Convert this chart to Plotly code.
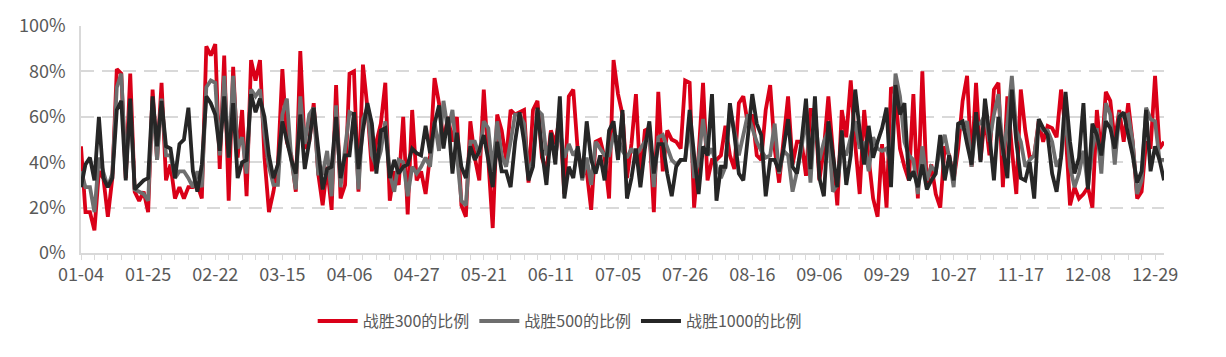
import pandas as pd
import plotly.graph_objects as go

# 2021 China A-share exchange holidays (weekdays closed)
HOLIDAYS = ["2021-01-01", "2021-02-11", "2021-02-12", "2021-02-15", "2021-02-16", "2021-02-17",
            "2021-04-05", "2021-05-03", "2021-05-04", "2021-05-05", "2021-06-14",
            "2021-09-20", "2021-09-21", "2021-10-01", "2021-10-04", "2021-10-05",
            "2021-10-06", "2021-10-07"]
trade_days = [d for d in pd.bdate_range("2021-01-04", "2021-12-31") if d.strftime("%Y-%m-%d") not in HOLIDAYS]
dates = [d.strftime("%m-%d") for d in trade_days]

win300 = [47, 18, 18, 10, 36, 33, 16, 33, 81, 79, 33, 79, 27, 23, 27, 18, 72, 41, 75, 32,
          39, 24, 29, 24, 29, 29, 30, 24, 91, 87, 92, 37, 87, 23, 82, 42, 63, 25, 85, 76,
          85, 42, 18, 27, 39, 81, 49, 43, 27, 89, 46, 49, 66, 35, 21, 38, 19, 74, 24, 30,
          79, 80, 27, 83, 64, 36, 49, 57, 75, 23, 36, 30, 60, 17, 63, 32, 36, 26, 43, 77,
          66, 49, 60, 49, 60, 21, 16, 58, 42, 32, 72, 41, 11, 61, 54, 41, 63, 61, 62, 63,
          31, 63, 67, 42, 36, 54, 48, 61, 26, 69, 72, 45, 35, 36, 19, 49, 50, 42, 24, 85,
          70, 61, 33, 48, 70, 32, 54, 55, 18, 71, 36, 54, 50, 49, 46, 76, 75, 20, 43, 75,
          32, 41, 41, 43, 56, 43, 37, 66, 69, 57, 61, 43, 41, 63, 74, 46, 31, 49, 69, 39,
          49, 49, 34, 63, 63, 32, 46, 69, 46, 21, 63, 51, 76, 48, 26, 63, 42, 24, 16, 48,
          20, 73, 70, 46, 38, 32, 70, 24, 80, 29, 39, 26, 20, 47, 43, 32, 46, 67, 78, 38,
          75, 41, 60, 43, 72, 75, 29, 69, 46, 26, 72, 54, 42, 43, 58, 49, 56, 55, 51, 72,
          54, 21, 29, 24, 26, 29, 20, 63, 43, 71, 67, 49, 63, 49, 66, 49, 24, 27, 49, 46,
          78, 46, 49]

win500 = [36, 29, 29, 18, 42, 35, 29, 35, 73, 79, 36, 67, 28, 27, 26, 23, 67, 41, 68, 43,
          43, 33, 36, 36, 33, 29, 36, 29, 73, 76, 75, 43, 78, 42, 78, 46, 51, 35, 72, 69,
          72, 52, 38, 30, 30, 61, 68, 41, 28, 69, 48, 61, 64, 35, 35, 45, 25, 65, 29, 46,
          62, 61, 28, 59, 64, 43, 38, 45, 58, 35, 27, 41, 40, 25, 38, 35, 38, 42, 38, 58,
          45, 67, 54, 63, 43, 23, 21, 49, 49, 43, 58, 55, 36, 58, 43, 38, 49, 61, 61, 57,
          35, 41, 63, 61, 43, 49, 43, 54, 42, 48, 43, 46, 32, 42, 30, 49, 46, 43, 43, 52,
          51, 45, 42, 46, 43, 46, 49, 52, 29, 51, 52, 46, 41, 39, 41, 41, 57, 33, 41, 59,
          43, 46, 38, 33, 38, 63, 54, 43, 52, 61, 55, 49, 45, 42, 43, 57, 35, 45, 43, 27,
          36, 46, 61, 31, 61, 41, 49, 54, 27, 30, 46, 43, 51, 58, 46, 49, 36, 51, 46, 45,
          46, 39, 79, 69, 49, 43, 41, 26, 47, 32, 38, 36, 46, 52, 42, 29, 57, 55, 58, 38,
          57, 57, 61, 49, 61, 70, 43, 57, 78, 54, 49, 38, 41, 43, 57, 54, 54, 49, 38, 42,
          61, 38, 29, 35, 45, 29, 46, 55, 35, 66, 61, 39, 61, 60, 61, 49, 26, 32, 64, 59,
          58, 41, 41]

win1000 = [29, 39, 42, 32, 60, 33, 29, 33, 63, 67, 32, 68, 28, 30, 32, 33, 69, 47, 67, 47,
           46, 33, 48, 50, 64, 36, 27, 39, 69, 66, 61, 45, 69, 42, 66, 33, 40, 41, 70, 62,
           68, 60, 43, 33, 39, 58, 50, 41, 35, 61, 37, 49, 64, 46, 28, 37, 38, 60, 33, 43,
           43, 62, 37, 54, 66, 57, 35, 54, 55, 33, 41, 35, 38, 39, 46, 44, 43, 56, 44, 57,
           65, 46, 60, 35, 53, 38, 33, 47, 41, 45, 52, 41, 29, 49, 36, 36, 29, 49, 62, 49,
           32, 38, 64, 45, 30, 53, 39, 69, 24, 38, 33, 47, 33, 58, 41, 35, 43, 32, 54, 58,
           41, 63, 24, 33, 46, 29, 46, 58, 35, 48, 48, 35, 25, 38, 41, 41, 63, 43, 26, 47,
           43, 70, 23, 38, 38, 66, 52, 35, 32, 51, 70, 57, 52, 25, 41, 41, 36, 46, 59, 38,
           35, 49, 68, 37, 69, 33, 25, 58, 43, 29, 54, 30, 43, 72, 54, 39, 56, 42, 49, 55,
           64, 29, 74, 61, 66, 32, 36, 29, 39, 28, 32, 35, 52, 32, 43, 32, 57, 58, 48, 39,
           62, 40, 68, 52, 32, 60, 46, 33, 72, 49, 33, 32, 40, 24, 59, 55, 52, 35, 27, 42,
           71, 49, 35, 42, 66, 28, 57, 52, 43, 58, 55, 46, 60, 62, 52, 43, 31, 36, 63, 36,
           47, 41, 32]

series_names = ["战胜300的比例", "战胜500的比例", "战胜1000的比例"]
series_colors = ["#DA0018", "#6E6E6E", "#262626"]
y_ticks = [0, 20, 40, 60, 80, 100]

n = len(dates)
idx = list(range(n))
label_idx = idx[::15]
label_text = [dates[i] for i in label_idx]

fig = go.Figure()
for name, vals, col in zip(series_names, [win300, win500, win1000], series_colors):
    fig.add_trace(go.Scatter(x=idx[:len(vals)], y=vals, mode="lines", name=name,
                             line=dict(color=col, width=3.8)))

FONT = "Noto Sans CJK SC"
TICKFONT = dict(family=FONT, size=18, color="#595959")
fig.update_layout(
    width=1226, height=357,
    margin=dict(l=81, r=62, t=26, b=104),
    paper_bgcolor="white", plot_bgcolor="white",
    font=dict(family=FONT, size=16, color="#595959"),
    showlegend=True,
    legend=dict(orientation="h", x=0.442, xanchor="center", y=-0.30, yanchor="middle",
                font=dict(family=FONT, size=16, color="#595959"),
                itemwidth=40, tracegroupgap=0, bgcolor="rgba(0,0,0,0)"),
    xaxis=dict(range=[0, n - 1], tickmode="array", tickvals=label_idx, ticktext=label_text,
               showgrid=False, zeroline=False, showline=True, linecolor="#d9d9d9", linewidth=1.5,
               ticks="outside", ticklen=5, tickcolor="#d9d9d9",
               minor=dict(tickmode="linear", tick0=0, dtick=3, ticks="outside", ticklen=5,
                          tickcolor="#d9d9d9", showgrid=False),
               tickfont=TICKFONT),
    yaxis=dict(range=[0, 100], tickmode="array", tickvals=y_ticks,
               ticktext=[f"{v}%" for v in y_ticks],
               showgrid=True, gridcolor="#d9d9d9", griddash="13px,8px", gridwidth=2,
               zeroline=False, showline=True, linecolor="#d9d9d9", linewidth=1.5,
               ticks="", ticklabelstandoff=10, tickfont=TICKFONT),
)

fig.write_html("out.html")
